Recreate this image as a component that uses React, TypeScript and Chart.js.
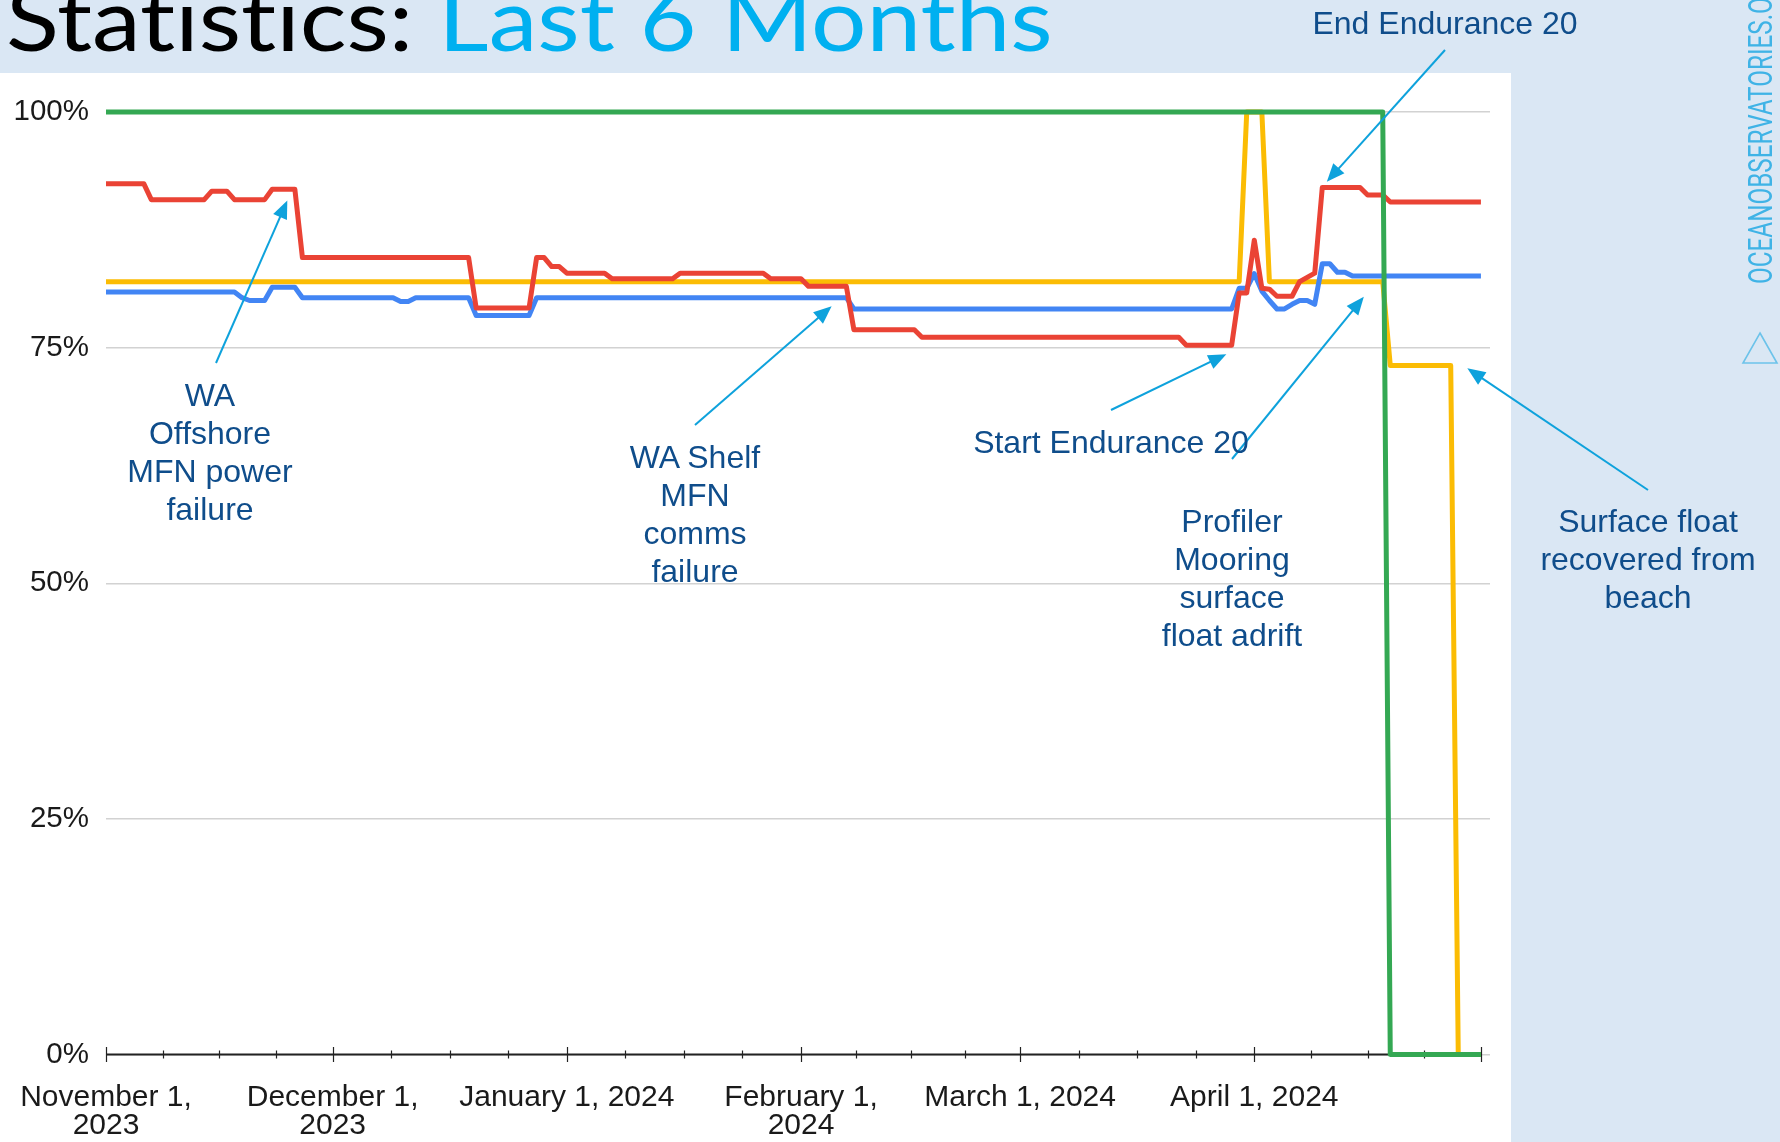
import React, { useEffect, useLayoutEffect, useRef, useState } from 'react';
import { Chart, registerables } from 'chart.js';

Chart.register(...registerables);

// ---------- data ----------
// x values are days since November 1, 2023
const axisStartDate = '2023-11-01';
const monthStartDates = ['2023-11-01', '2023-12-01', '2024-01-01', '2024-02-01', '2024-03-01', '2024-04-01', '2024-05-01'];
const monthTickLabels: (string | string[])[] = [
  ['November 1,', '2023'],
  ['December 1,', '2023'],
  'January 1, 2024',
  ['February 1,', '2024'],
  'March 1, 2024',
  'April 1, 2024',
  '',
];
const yTickValues = [0, 25, 50, 75, 100];

const greenDays = [0, 169, 170, 182];
const greenValues = [100, 100, 0, 0];

const redDays = [0, 5, 6, 13, 14, 16, 17, 21, 22, 25, 26, 48, 49, 56, 57, 58, 59, 60, 61, 66, 67, 75, 76, 87, 88, 92, 93, 98, 99, 107, 108, 142, 143, 149, 150, 151, 152, 153, 154, 155, 157, 158, 160, 161, 166, 167, 169, 170, 182];
const redValues = [92.4, 92.4, 90.7, 90.7, 91.6, 91.6, 90.7, 90.7, 91.8, 91.8, 84.55, 84.55, 79.2, 79.2, 84.55, 84.55, 83.6, 83.6, 82.9, 82.9, 82.3, 82.3, 82.9, 82.9, 82.3, 82.3, 81.5, 81.5, 76.9, 76.9, 76.1, 76.1, 75.25, 75.25, 80.8, 80.8, 86.4, 81.3, 81.2, 80.45, 80.45, 82.0, 82.9, 92.0, 92.0, 91.2, 91.2, 90.45, 90.45];

const blueDays = [0, 17, 18, 19, 21, 22, 25, 26, 38, 39, 40, 41, 48, 49, 56, 57, 98, 99, 149, 150, 151, 152, 153, 154, 155, 156, 157, 158, 159, 160, 161, 162, 163, 164, 165, 182];
const blueValues = [80.9, 80.9, 80.3, 80.0, 80.0, 81.4, 81.4, 80.3, 80.3, 79.9, 79.9, 80.3, 80.3, 78.4, 78.4, 80.3, 80.3, 79.1, 79.1, 81.3, 81.3, 82.85, 81.0, 80.0, 79.1, 79.1, 79.6, 80.0, 80.0, 79.6, 83.9, 83.9, 83.0, 83.0, 82.6, 82.6];

const yellowDays = [0, 150, 151, 153, 154, 169, 170, 178, 179, 182];
const yellowValues = [82.0, 82.0, 100, 100, 82.0, 82.0, 73.1, 73.1, 0, 0];

// annotation arrows: tips in data coordinates
const arrowTipDays = [24.0, 96.05, 148.3, 166.5, 161.6, 180.2];
const arrowTipValues = [90.6, 79.4, 74.3, 80.4, 92.6, 72.8];

const annotationTexts: string[][] = [
  ['WA', 'Offshore', 'MFN power', 'failure'],
  ['WA Shelf', 'MFN', 'comms', 'failure'],
  ['Start Endurance 20'],
  ['Profiler', 'Mooring', 'surface', 'float adrift'],
  ['End Endurance 20'],
  ['Surface float', 'recovered from', 'beach'],
];

// ---------- layout / style ----------
const W = 1780;
const H = 1142;
const PLOT_LEFT = 106;
const PLOT_RIGHT = 1490;
const PLOT_TOP = 112;
const PLOT_BOTTOM = 1054.5;
const X_MAX = 183.2;

const PANEL_BLUE = '#dae7f4';
const GREEN = '#34a853';
const RED = '#ea4335';
const BLUE = '#4285f4';
const YELLOW = '#fbbc04';
const ARROW = '#0ea2dc';
const NOTE = '#0f4d8b';
const AXIS_FONT = '"Liberation Sans", Arial, sans-serif';

// annotation layout (center x, first baseline, tail of arrow)
const annotationLayout = [
  { cx: 210, base: 406, tail: [216, 363] },
  { cx: 695, base: 468, tail: [695, 425] },
  { cx: 1111, base: 453, tail: [1111, 410] },
  { cx: 1232, base: 532, tail: [1232, 459] },
  { cx: 1445, base: 34, tail: [1445, 50] },
  { cx: 1648, base: 532, tail: [1648, 490] },
];

const dayOf = (iso: string) => (Date.parse(iso + 'T00:00:00Z') - Date.parse(axisStartDate + 'T00:00:00Z')) / 86400000;
const monthDays = monthStartDates.map(dayOf);

const toPoints = (days: number[], values: number[]) => days.map((d, i) => ({ x: d, y: values[i] }));

const decorPlugin = {
  id: 'decor',
  beforeDraw(chart: any) {
    const ctx = chart.ctx;
    ctx.save();
    ctx.fillStyle = PANEL_BLUE;
    ctx.fillRect(0, 0, W, H);
    ctx.fillStyle = '#ffffff';
    ctx.fillRect(0, 73, 1511, H - 73);
    ctx.restore();
  },
  beforeDatasetsDraw(chart: any) {
    const ctx = chart.ctx;
    const xs = chart.scales.x;
    const ys = chart.scales.y;
    const y0 = ys.getPixelForValue(0);
    ctx.save();
    ctx.strokeStyle = '#222222';
    ctx.lineWidth = 1.8;
    ctx.beginPath();
    ctx.moveTo(xs.getPixelForValue(monthDays[0]), y0);
    ctx.lineTo(xs.getPixelForValue(monthDays[monthDays.length - 1]), y0);
    ctx.stroke();
    ctx.lineWidth = 1.2;
    for (let i = 0; i < monthDays.length; i++) {
      const px = Math.round(xs.getPixelForValue(monthDays[i])) + 0.5;
      ctx.beginPath();
      ctx.moveTo(px, y0 - 7.5);
      ctx.lineTo(px, y0 + 7.5);
      ctx.stroke();
      if (i < monthDays.length - 1) {
        const span = monthDays[i + 1] - monthDays[i];
        for (let q = 1; q < 4; q++) {
          const mx = Math.round(xs.getPixelForValue(monthDays[i] + (span * q) / 4)) + 0.5;
          ctx.beginPath();
          ctx.moveTo(mx, y0 - 4);
          ctx.lineTo(mx, y0 + 4);
          ctx.stroke();
        }
      }
    }
    ctx.restore();
  },
  afterDatasetsDraw(chart: any) {
    const ctx = chart.ctx;
    const xs = chart.scales.x;
    const ys = chart.scales.y;
    ctx.save();
    ctx.strokeStyle = ARROW;
    ctx.fillStyle = ARROW;
    ctx.lineWidth = 2;
    for (let i = 0; i < arrowTipDays.length; i++) {
      const tx = xs.getPixelForValue(arrowTipDays[i]);
      const ty = ys.getPixelForValue(arrowTipValues[i]);
      const [sx, sy] = annotationLayout[i].tail;
      const ang = Math.atan2(ty - sy, tx - sx);
      const c = Math.cos(ang);
      const s = Math.sin(ang);
      const hl = 18;
      const hw = 7.5;
      ctx.beginPath();
      ctx.moveTo(sx, sy);
      ctx.lineTo(tx - c * hl * 0.7, ty - s * hl * 0.7);
      ctx.stroke();
      ctx.beginPath();
      ctx.moveTo(tx, ty);
      ctx.lineTo(tx - hl * c + hw * s, ty - hl * s - hw * c);
      ctx.lineTo(tx - hl * c - hw * s, ty - hl * s + hw * c);
      ctx.closePath();
      ctx.fill();
    }
    // logo triangle
    ctx.strokeStyle = '#6cc3ea';
    ctx.lineWidth = 1.6;
    ctx.beginPath();
    ctx.moveTo(1760, 333);
    ctx.lineTo(1777, 363);
    ctx.lineTo(1743, 363);
    ctx.closePath();
    ctx.stroke();
    ctx.restore();
  },
};

export default function App() {
  const canvasRef = useRef<HTMLCanvasElement>(null);
  const titleRef = useRef<HTMLDivElement>(null);
  const brandRef = useRef<HTMLDivElement>(null);
  const [titleScale, setTitleScale] = useState(1);
  const [brandScale, setBrandScale] = useState(1);

  useLayoutEffect(() => {
    if (titleRef.current) setTitleScale(1047 / titleRef.current.offsetWidth);
    if (brandRef.current) setBrandScale(287 / brandRef.current.offsetWidth);
  }, []);

  useEffect(() => {
    const series = [
      { label: 'Series D', days: greenDays, values: greenValues, color: GREEN },
      { label: 'Series A', days: redDays, values: redValues, color: RED },
      { label: 'Series B', days: blueDays, values: blueValues, color: BLUE },
      { label: 'Series C', days: yellowDays, values: yellowValues, color: YELLOW },
    ];
    const chart = new Chart(canvasRef.current as HTMLCanvasElement, {
      type: 'line',
      data: {
        datasets: series.map((s) => ({
          label: s.label,
          data: toPoints(s.days, s.values),
          borderColor: s.color,
          backgroundColor: s.color,
          borderWidth: 5,
          pointRadius: 0,
          tension: 0,
          fill: false,
          clip: false,
          borderJoinStyle: 'round' as const,
        })),
      },
      options: {
        animation: false,
        responsive: false,
        maintainAspectRatio: false,
        events: [],
        layout: { autoPadding: false, padding: { left: 0, top: PLOT_TOP, right: W - PLOT_RIGHT, bottom: 0 } },
        plugins: { legend: { display: false }, tooltip: { enabled: false } },
        scales: {
          x: {
            type: 'linear',
            min: 0,
            max: X_MAX,
            afterBuildTicks: (scale: any) => {
              scale.ticks = monthDays.map((v) => ({ value: v }));
            },
            afterFit: (scale: any) => {
              scale.height = H - PLOT_BOTTOM;
              scale.paddingLeft = 0;
              scale.paddingRight = 0;
            },
            grid: { display: false },
            border: { display: false },
            ticks: {
              autoSkip: false,
              maxRotation: 0,
              minRotation: 0,
              padding: 20.5,
              color: '#1a1a1a',
              font: { family: AXIS_FONT, size: 30, lineHeight: 0.95 },
              callback: (_v: any, i: number) => monthTickLabels[i] as any,
            },
          },
          y: {
            type: 'linear',
            min: 0,
            max: 100,
            afterBuildTicks: (scale: any) => {
              scale.ticks = yTickValues.map((v) => ({ value: v }));
            },
            afterFit: (scale: any) => {
              scale.width = PLOT_LEFT;
              scale.paddingTop = 0;
              scale.paddingBottom = 0;
            },
            grid: { color: '#d2d2d2', lineWidth: 1.5, drawTicks: false },
            border: { display: false },
            ticks: {
              padding: 17,
              color: '#1a1a1a',
              font: { family: AXIS_FONT, size: 29.5 },
              callback: (v: any) => v + '%',
            },
          },
        },
      },
      plugins: [decorPlugin],
    } as any);
    return () => chart.destroy();
  }, []);

  const lineH = 38;
  const noteFontSize = 32;
  // baseline offset inside a line box for Liberation Sans (ascent .905, descent .212)
  const baseOff = (lineH - 1.117 * noteFontSize) / 2 + 0.905 * noteFontSize;

  return (
    <div style={{ position: 'absolute', left: 0, top: 0, width: W, height: H, overflow: 'hidden', background: PANEL_BLUE }}>
      <canvas ref={canvasRef} width={W} height={H} style={{ position: 'absolute', left: 0, top: 0, width: W, height: H }} />
      <div
        ref={titleRef}
        style={{
          position: 'absolute',
          left: 6,
          top: 51 - 0.987 * 88 + 0.1 * 88,
          fontFamily: 'Lato, "Open Sans", sans-serif',
          fontSize: 88,
          lineHeight: '88px',
          whiteSpace: 'nowrap',
          fontVariantLigatures: 'none',
          fontFeatureSettings: '"liga" 0, "clig" 0',
          transformOrigin: '0 0',
          transform: `scaleX(${titleScale})`,
        }}
      >
        <span style={{ color: '#000000' }}>Statistics: </span>
        <span style={{ color: '#00b0f0' }}>Last 6 Months</span>
      </div>
      <div
        ref={brandRef}
        style={{
          position: 'absolute',
          left: 1743,
          top: 284,
          fontFamily: 'Roboto, sans-serif',
          fontSize: 34,
          lineHeight: '34px',
          color: '#3fb3e6',
          whiteSpace: 'nowrap',
          transformOrigin: '0 0',
          transform: `rotate(-90deg) scaleX(${brandScale})`,
        }}
      >
        OCEANOBSERVATORIES.O
      </div>
      {annotationTexts.map((lines, i) => (
        <div
          key={i}
          style={{
            position: 'absolute',
            left: annotationLayout[i].cx - 200,
            width: 400,
            top: annotationLayout[i].base - baseOff,
            textAlign: 'center',
            fontFamily: AXIS_FONT,
            fontSize: noteFontSize,
            lineHeight: lineH + 'px',
            color: NOTE,
            whiteSpace: 'nowrap',
          }}
        >
          {lines.map((l, j) => (
            <div key={j}>{l}</div>
          ))}
        </div>
      ))}
    </div>
  );
}
